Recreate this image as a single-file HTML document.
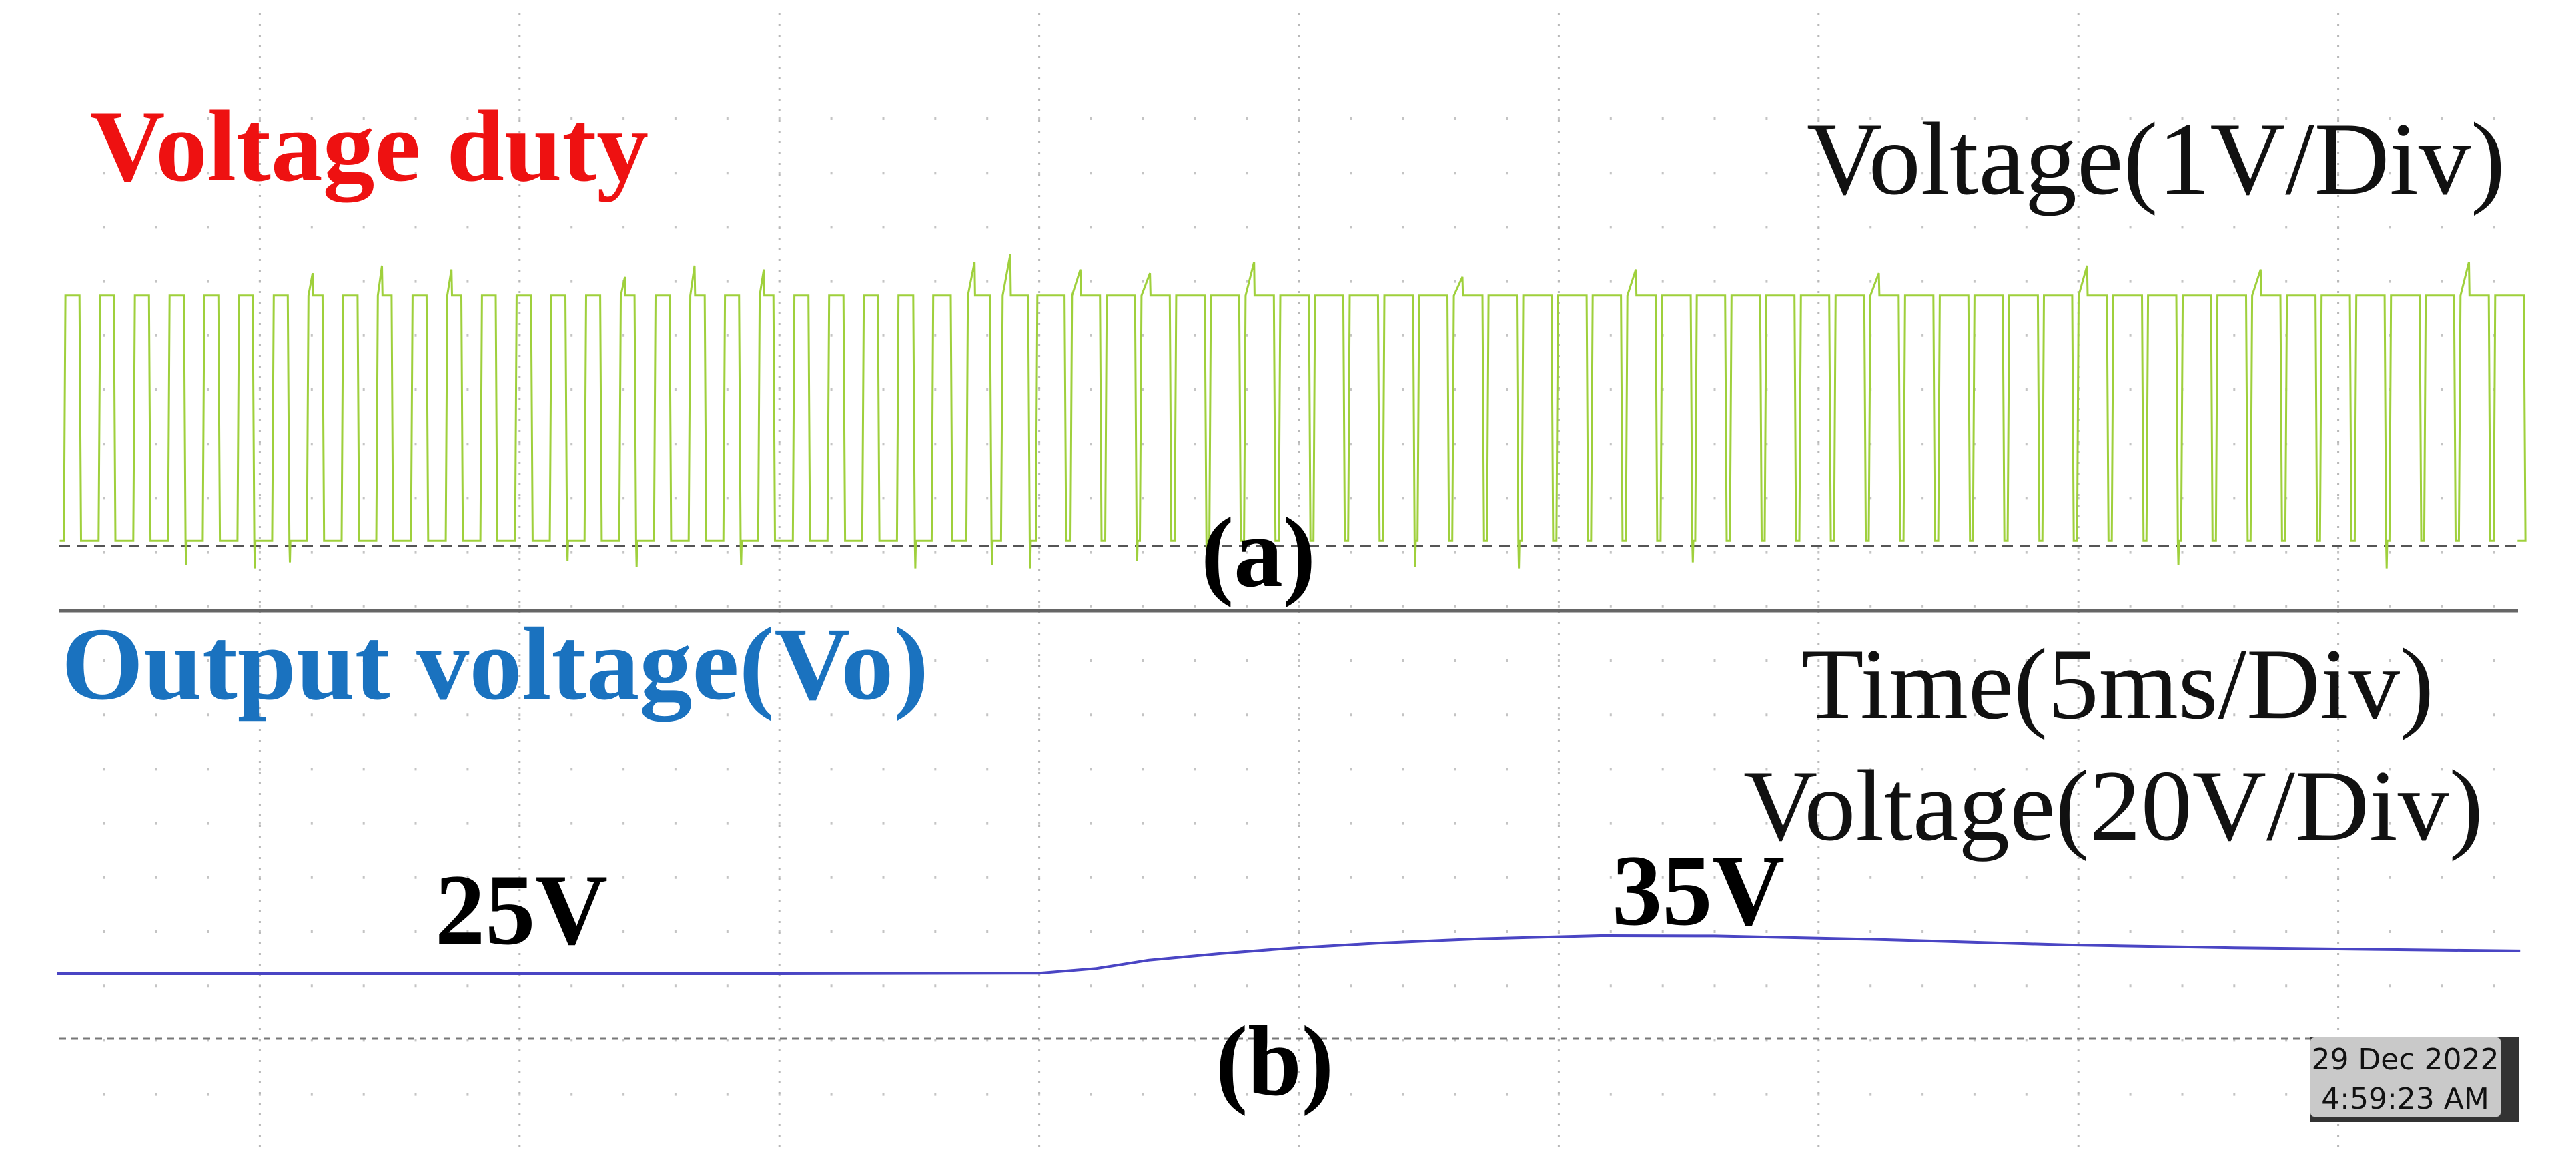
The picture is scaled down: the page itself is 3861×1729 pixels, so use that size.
<!DOCTYPE html>
<html><head><meta charset="utf-8">
<style>
html,body{margin:0;padding:0;background:#fff;}
svg{display:block;}
</style></head>
<body>
<svg id="chart" width="3861" height="1729" viewBox="0 0 3861 1729" xmlns="http://www.w3.org/2000/svg">
  <rect x="0" y="0" width="3861" height="1729" fill="#fff"/>
  <g id="grid"></g>
  <line x1="89" y1="818" x2="3772" y2="818" stroke="#555" stroke-width="4" stroke-dasharray="16,10"/>
  <line x1="89" y1="1556" x2="3463" y2="1556" stroke="#777" stroke-width="3" stroke-dasharray="10,8"/>
  <line x1="89" y1="915" x2="3774" y2="915" stroke="#666" stroke-width="5"/>
  <g id="traces"></g>

  <text x="135" y="270" font-family="Liberation Serif, serif" font-weight="bold" font-size="152" fill="#ee1111" textLength="837" lengthAdjust="spacingAndGlyphs">Voltage duty</text>
  <text x="92" y="1047" font-family="Liberation Serif, serif" font-weight="bold" font-size="156" fill="#1a72bf" textLength="1300" lengthAdjust="spacingAndGlyphs">Output voltage(Vo)</text>
  <text x="2708" y="290" font-family="Liberation Serif, serif" font-size="155" fill="#111" textLength="1047" lengthAdjust="spacingAndGlyphs">Voltage(1V/Div)</text>
  <text x="2700" y="1076" font-family="Liberation Serif, serif" font-size="152" fill="#111" textLength="948" lengthAdjust="spacingAndGlyphs">Time(5ms/Div)</text>
  <text x="2613" y="1258" font-family="Liberation Serif, serif" font-size="152" fill="#111" textLength="1109" lengthAdjust="spacingAndGlyphs">Voltage(20V/Div)</text>
  <text x="652" y="1414" font-family="Liberation Serif, serif" font-weight="bold" font-size="152" fill="#000" textLength="259" lengthAdjust="spacingAndGlyphs">25V</text>
  <text x="2416" y="1385" font-family="Liberation Serif, serif" font-weight="bold" font-size="152" fill="#000" textLength="259" lengthAdjust="spacingAndGlyphs">35V</text>
  <text x="1800" y="878" font-family="Liberation Serif, serif" font-weight="bold" font-size="150" fill="#000" textLength="172" lengthAdjust="spacingAndGlyphs">(a)</text>
  <text x="1822" y="1640" font-family="Liberation Serif, serif" font-weight="bold" font-size="150" fill="#000" textLength="177" lengthAdjust="spacingAndGlyphs">(b)</text>

  <g>
    <rect x="3463" y="1554" width="312" height="127" fill="#333"/>
    <rect x="3463" y="1554" width="285" height="119" rx="6" fill="#c9c9c9"/>
    <text x="3605" y="1602" text-anchor="middle" font-family="DejaVu Sans, sans-serif" font-size="44" fill="#111">29 Dec 2022</text>
    <text x="3605" y="1661" text-anchor="middle" font-family="DejaVu Sans, sans-serif" font-size="44" fill="#111">4:59:23 AM</text>
  </g>
</svg>
<script>
// ---- data ----
const dutyCycles = [0.45,0.44,0.45,0.46,0.45,0.44,0.45,0.45,0.46,0.44,0.45,0.45,0.44,0.46,0.45,0.45,0.44,0.45,0.46,0.45,0.44,0.45,0.46,0.45,0.47,0.55,0.68,0.78,0.83,0.85,0.86,0.86,0.87,0.86,0.86,0.87,0.86,0.86,0.87,0.86,0.87,0.86,0.86,0.87,0.86,0.86,0.87,0.86,0.87,0.86,0.86,0.87,0.86,0.86,0.87,0.86,0.87,0.86,0.86,0.87,0.86,0.86,0.87,0.86,0.87,0.86,0.86,0.87,0.86,0.86,0.87];
const pwmHighV = [3.35];
const pwmLowV = [0.07];
const spikeUpIdx = [7,9,11,16,18,20,26,27,29,31,34,40,45,52,58,63,69];
const spikeUpV = [3.65,3.75,3.7,3.6,3.75,3.7,3.8,3.9,3.7,3.65,3.8,3.6,3.7,3.65,3.75,3.7,3.8];
const spikeDownIdx = [3,5,6,14,16,19,24,26,27,30,32,38,41,46,60,66];
const spikeDownV = [-0.25,-0.3,-0.22,-0.2,-0.28,-0.25,-0.3,-0.25,-0.3,-0.2,-0.25,-0.28,-0.3,-0.22,-0.25,-0.3];
const voTimes = [1.1,5,10,15,20,21.1,22.1,23.5,24.8,26.5,28.5,30.8,33,36,39.8,43,46,48.5];
const voValues = [25,25,25,25,25.2,27,30.2,32.8,34.8,36.8,38.5,39.7,39.6,38.3,36.1,35,34.3,33.8];
const pwmStartMs = [1.23];
const pwmPeriodMs = [0.668];

// ---- axes ----
const PX_PER_MS = 389.4/5;
function xT(t){ return t*PX_PER_MS; }
function yA(v){ return 818 - v*112; }
function yB(v){ return 1556 - v*3.88; }

const NS='http://www.w3.org/2000/svg';
const grid=document.getElementById('grid');
const traces=document.getElementById('traces');

// grid dots
let d='';
for(let r=0;r<19;r++){
  const y=178+81.2*r;
  for(let c=1;c<49;c++){
    const x=c*389.4/5;
    if(x<89||x>3775) continue;
    d+='M'+(x-1.5).toFixed(1)+' '+(y-2).toFixed(1)+'h3v4h-3z';
  }
}
const dots=document.createElementNS(NS,'path');


dots.setAttribute('d',d);
dots.setAttribute('fill','#c4c4c4');
grid.appendChild(dots);
for(let k=1;k<=9;k++){
  const gl=document.createElementNS(NS,'line');
  
  
  gl.setAttribute('x1',k*389.4); gl.setAttribute('x2',k*389.4);
  gl.setAttribute('y1',20); gl.setAttribute('y2',1720);
  gl.setAttribute('stroke','#b8b8b8');
  gl.setAttribute('stroke-width','3');
  gl.setAttribute('stroke-dasharray','3,13');
  grid.appendChild(gl);
}

// PWM trace
const T=pwmPeriodMs[0];
const hi=pwmHighV[0], lo=pwmLowV[0];
const up={}, dn={};
spikeUpIdx.forEach((i,j)=>up[i]=spikeUpV[j]);
spikeDownIdx.forEach((i,j)=>dn[i]=spikeDownV[j]);
let p='M'+xT(pwmStartMs[0]-0.08).toFixed(1)+' '+yA(lo).toFixed(1);
const edge=0.03;
dutyCycles.forEach((duty,i)=>{
  const t0=pwmStartMs[0]+i*T;
  const tf=t0+duty*T;
  const tEnd=t0+T;
  p+=' L'+xT(t0).toFixed(1)+' '+yA(lo).toFixed(1);
  p+=' L'+xT(t0+edge).toFixed(1)+' '+yA(hi).toFixed(1);
  if(up[i]!==undefined){
    const tm=t0+edge+(duty*T-edge)*0.3;
    p+=' L'+xT(tm).toFixed(1)+' '+yA(up[i]).toFixed(1);
    p+=' L'+xT(tm+0.01).toFixed(1)+' '+yA(hi).toFixed(1);
  }
  p+=' L'+xT(tf).toFixed(1)+' '+yA(hi).toFixed(1);
  p+=' L'+xT(tf+edge).toFixed(1)+' '+yA(lo).toFixed(1);
  if(dn[i]!==undefined){
    p+=' L'+xT(tf+edge+0.01).toFixed(1)+' '+yA(dn[i]).toFixed(1);
    p+=' L'+xT(tf+edge+0.02).toFixed(1)+' '+yA(lo).toFixed(1);
  }
  if(i===dutyCycles.length-1) p+=' L'+xT(Math.min(tEnd,48.45)).toFixed(1)+' '+yA(lo).toFixed(1);
});
const pwm=document.createElementNS(NS,'path');


pwm.setAttribute('d',p);
pwm.setAttribute('fill','none');
pwm.setAttribute('stroke','#9fd03c');
pwm.setAttribute('stroke-width','3');
traces.appendChild(pwm);

// Output voltage trace
let q='';
voTimes.forEach((t,i)=>{ q+=(i?' L':'M')+xT(t).toFixed(1)+' '+yB(voValues[i]).toFixed(1); });
const vo=document.createElementNS(NS,'path');


vo.setAttribute('d',q);
vo.setAttribute('fill','none');
vo.setAttribute('stroke','#4a45c4');
vo.setAttribute('stroke-width','4');
traces.appendChild(vo);
</script>
</body></html>
